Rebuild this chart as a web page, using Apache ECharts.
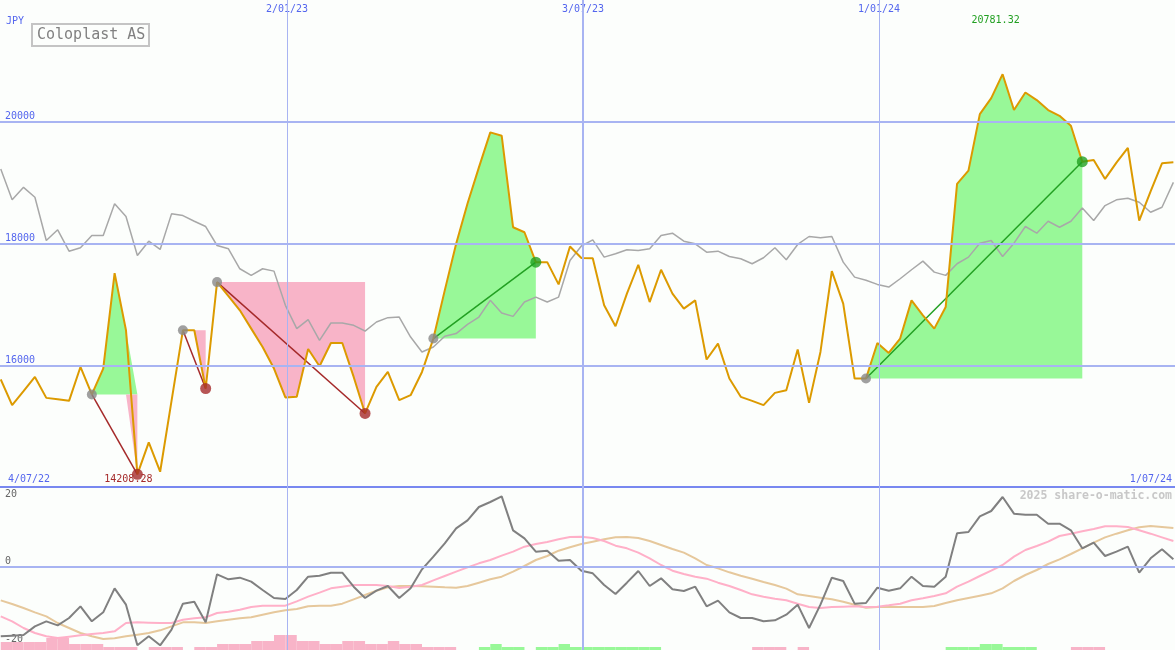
<!DOCTYPE html>
<html><head><meta charset="utf-8">
<script src="https://cdn.jsdelivr.net/npm/echarts@6/dist/echarts.min.js"></script>
<style>html,body{margin:0;padding:0;background:#fcfefc}#c{width:1175px;height:650px}</style>
</head><body><div id="c"></div>
<script>
const stockName = 'Coloplast AS';
const currency = 'JPY';
const watermark = '2025 share-o-matic.com';
const startDate = '2022-07-10';
const tickLabels = ['4/07/22', '2/01/23', '3/07/23', '1/01/24', '1/07/24'];
const priceTicks = [16000, 18000, 20000];
const momentumTicks = [-20, 0, 20];

const price = [15766, 15344, 15574, 15808, 15464, 15443, 15415, 15972, 15520, 15946,
  17513, 16574, 14208.28, 14733, 14251, 15415, 16574, 16574, 15618, 17366,
  17136, 16902, 16602, 16300, 15946, 15471, 15484, 16267, 15984, 16366,
  16366, 15808, 15208, 15644, 15890, 15426, 15508, 15890, 16438, 17230,
  17995, 18656, 19251, 19825, 19771, 18267, 18185, 17694, 17694, 17328,
  17951, 17762, 17759, 16984, 16640, 17176, 17651, 17038, 17569, 17176,
  16930, 17066, 16094, 16356, 15782, 15481, 15415, 15344, 15546, 15590,
  16258, 15382, 16218, 17546, 17012, 15782, 15782, 16366, 16202, 16438,
  17066, 16820, 16602, 16956, 18979, 19197, 20126, 20389, 20781.32, 20192,
  20480, 20356, 20192, 20098, 19934, 19344, 19372, 19061, 19328, 19569,
  18377, 18858, 19317, 19333];

const benchmark = [19225, 18717, 18923, 18759, 18049, 18225, 17874, 17930, 18131, 18131,
  18651, 18443, 17803, 18038, 17902, 18487, 18459, 18366, 18279, 17967,
  17913, 17585, 17476, 17585, 17546, 16984, 16602, 16749, 16410, 16694,
  16694, 16656, 16562, 16710, 16782, 16792, 16464, 16218, 16300, 16476,
  16520, 16672, 16792, 17066, 16858, 16803, 17038, 17120, 17038, 17120,
  17721, 17959, 18061, 17776, 17831, 17897, 17885, 17913, 18131, 18169,
  18038, 17995, 17857, 17874, 17787, 17749, 17667, 17766, 17930, 17733,
  17984, 18115, 18094, 18115, 17694, 17448, 17397, 17328, 17284, 17421,
  17569, 17710, 17530, 17476, 17667, 17776, 18005, 18049, 17787, 18005,
  18279, 18169, 18366, 18267, 18366, 18585, 18377, 18623, 18717, 18743,
  18677, 18513, 18595, 19005];

const momentum = [-20.8, -20.6, -20.4, -17.8, -16.3, -17.5, -15.3, -11.8, -16.3, -13.6,
  -6.4, -11.3, -23.5, -20.8, -23.5, -18.8, -11.0, -10.4, -16.6, -2.2,
  -3.7, -3.2, -4.4, -6.9, -9.3, -9.6, -6.9, -2.9, -2.6, -1.7,
  -1.7, -5.9, -9.3, -7.1, -5.7, -9.3, -6.4, -0.7, 3.1, 7.1,
  11.6, 14.0, 18.0, 19.5, 21.2, 11.0, 8.6, 4.6, 4.9, 1.9,
  2.1, -1.1, -1.9, -5.4, -8.1, -4.7, -1.2, -5.7, -3.4, -6.7,
  -7.2, -5.9, -11.8, -10.1, -13.6, -15.3, -15.3, -16.3, -16.0, -14.3,
  -11.3, -18.3, -11.3, -3.2, -4.2, -11.0, -10.8, -6.2, -7.1, -6.4,
  -2.9, -5.7, -5.9, -2.9, 10.1, 10.5, 15.2, 16.8, 21.0, 16.0,
  15.7, 15.7, 13.0, 13.0, 11.0, 5.6, 7.3, 3.3, 4.6, 6.1,
  -1.7, 2.6, 5.3, 2.3];

const maFast = [-14.8, -16.3, -18.3, -19.8, -20.8, -21.3, -20.9, -20.5, -20.1, -19.8,
  -19.3, -16.8, -16.6, -16.7, -16.8, -16.8, -15.8, -15.4, -15.1, -13.8,
  -13.4, -12.8, -12.0, -11.6, -11.6, -11.6, -10.3, -8.9, -7.7, -6.4,
  -5.9, -5.4, -5.4, -5.4, -5.7, -6.3, -5.9, -5.4, -4.0, -2.7,
  -1.4, -0.1, 1.1, 2.1, 3.4, 4.6, 6.1, 6.9, 7.5, 8.3,
  9.0, 9.1, 8.7, 7.8, 6.4, 5.6, 4.3, 2.6, 0.6, -1.1,
  -2.1, -2.9, -3.5, -4.7, -5.7, -6.9, -8.2, -8.9, -9.5, -10.0,
  -11.0, -12.0, -12.3, -12.0, -11.9, -11.8, -12.0, -11.9, -11.5, -11.0,
  -10.0, -9.4, -8.7, -7.9, -5.9, -4.4, -2.7, -1.1, 0.6, 3.1,
  5.1, 6.3, 7.6, 9.3, 10.0, 10.7, 11.4, 12.2, 12.2, 12.0,
  11.0, 10.0, 8.9, 7.8];

const maSlow = [-10.0, -11.1, -12.3, -13.6, -14.8, -16.8, -18.3, -19.8, -20.8, -21.6,
  -21.4, -20.8, -20.3, -19.8, -19.0, -17.8, -16.6, -16.6, -16.8, -16.3,
  -15.8, -15.4, -15.1, -14.3, -13.6, -13.0, -12.6, -11.8, -11.6, -11.6,
  -11.0, -9.7, -8.4, -7.1, -6.1, -5.7, -5.7, -5.8, -5.9, -6.1,
  -6.2, -5.7, -4.7, -3.7, -2.9, -1.4, 0.3, 2.1, 3.3, 4.9,
  5.9, 6.9, 7.6, 8.3, 8.9, 9.0, 8.7, 7.8, 6.6, 5.4,
  4.3, 2.6, 0.6, -0.4, -1.6, -2.6, -3.5, -4.5, -5.4, -6.5,
  -8.2, -8.7, -9.2, -9.7, -10.4, -11.3, -12.2, -12.0, -12.0, -12.0,
  -12.0, -12.0, -11.7, -10.8, -10.0, -9.3, -8.6, -7.9, -6.4, -4.2,
  -2.4, -0.9, 0.9, 2.3, 3.9, 5.6, 7.3, 8.9, 10.0, 11.0,
  11.9, 12.3, 12.0, 11.7];

const signalBars = [-8, -8, -8, -8, -12, -12, -6, -6, -6, -3,
  -3, -3, 0, -3, -3, -3, 0, -3, -3, -6,
  -6, -6, -9, -9, -15, -15, -9, -9, -6, -6,
  -9, -9, -6, -6, -9, -6, -6, -3, -3, -3,
  0, 0, 3, 6, 3, 3, 0, 3, 3, 6,
  3, 3, 3, 3, 3, 3, 3, 3, 0, 0,
  0, 0, 0, 0, 0, 0, -3, -3, -3, 0,
  -3, 0, 0, 0, 0, 0, 0, 0, 0, 0,
  0, 0, 0, 3, 3, 3, 6, 6, 3, 3,
  3, 0, 0, 0, -3, -3, -3, 0, 0, 0,
  0, 0, 0, 0];

const tradeEntries = [8, 16, 19, 38, 76];
const tradeExits = [12, 18, 32, 47, 95];

// ---------- derived ----------
const DAY = 86400000;
const MONO = '"DejaVu Sans Mono", "Liberation Mono", monospace';
const BLUE = '#5466ee';
const GRIDC = '#a8b4f2';
const GREEN_FILL = '#98f898';
const PINK_FILL = '#f8b4c8';
const WIN = '#22a022';
const LOSS = '#a52a2a';

function parseTick(s) { const p = s.split('/').map(Number); return Date.UTC(2000 + p[2], p[1] - 1, p[0]); }
const tickTimes = tickLabels.map(parseTick);
const t0 = Date.parse(startDate + 'T00:00:00Z');
const dates = price.map((_, i) => t0 + 7 * i * DAY);
const xMax = tickTimes[tickTimes.length - 1];
// the first labelled date sits just off the left edge of the picture (9 of 1184 px)
const xMin = tickTimes[0] + (xMax - tickTimes[0]) * 9 / 1184;
const pair = (arr) => arr.map((v, i) => [dates[i], v]);
const edgeValues = [xMin, xMax];
const edgeLabel = (v) => Math.abs(v - xMin) < DAY ? tickLabels[0] : (Math.abs(v - xMax) < DAY ? tickLabels[tickLabels.length - 1] : '');
const midLabel = (v) => { let best = '', bd = Infinity; tickTimes.forEach((t, k) => { const d = Math.abs(t - v); if (d < bd) { bd = d; best = tickLabels[k]; } }); return bd < DAY ? best : ''; };
const vLine = (t, k) => ({ xAxis: t, lineStyle: { color: GRIDC, width: k === 1 ? 2 : 1, type: 'solid' } });

const series = [];
series.push({
  type: 'line', xAxisIndex: 0, yAxisIndex: 0, data: pair(benchmark), symbol: 'none', silent: true,
  lineStyle: { opacity: 0 }, z: 0,
  markLine: { symbol: 'none', silent: true, label: { show: false }, animation: false,
    data: priceTicks.map(v => ({ yAxis: v, lineStyle: { color: GRIDC, width: 2, type: 'solid' } }))
      .concat(tickTimes.slice(1, -1).map(vLine)) }
});
tradeEntries.forEach((e, k) => {
  const x = tradeExits[k], level = price[e];
  const up = [], dn = [];
  for (let i = e; i <= x; i++) { up.push([dates[i], Math.max(price[i], level)]); dn.push([dates[i], Math.min(price[i], level)]); }
  series.push({ type: 'line', xAxisIndex: 0, yAxisIndex: 0, data: up, symbol: 'none', silent: true, z: 1,
    lineStyle: { width: 0 }, areaStyle: { color: GREEN_FILL, opacity: 1, origin: level } });
  series.push({ type: 'line', xAxisIndex: 0, yAxisIndex: 0, data: dn, symbol: 'none', silent: true, z: 1,
    lineStyle: { width: 0 }, areaStyle: { color: PINK_FILL, opacity: 1, origin: level } });
});
series.push({ type: 'line', xAxisIndex: 0, yAxisIndex: 0, data: pair(benchmark), symbol: 'none', z: 2,
  lineStyle: { color: '#a8a8a8', width: 1.5 } });
tradeEntries.forEach((e, k) => {
  const x = tradeExits[k];
  series.push({ type: 'line', xAxisIndex: 0, yAxisIndex: 0, symbol: 'none', z: 3,
    data: [[dates[e], price[e]], [dates[x], price[x]]],
    lineStyle: { color: price[x] > price[e] ? WIN : LOSS, width: 1.5 } });
});
series.push({ type: 'line', xAxisIndex: 0, yAxisIndex: 0, data: pair(price), symbol: 'none', z: 4,
  lineStyle: { color: '#dc9a00', width: 2 },
  markPoint: { symbol: 'circle', symbolSize: 1, itemStyle: { color: 'rgba(0,0,0,0)' }, animation: false,
    label: { show: true, position: 'inside', fontFamily: MONO, fontSize: 10, formatter: (p) => Number(p.value).toFixed(2) },
    data: [
      { type: 'max', label: { color: WIN, offset: [-7, -54] } },
      { type: 'min', label: { color: LOSS, offset: [-9, 5] } }
    ] }
});
series.push({ type: 'scatter', xAxisIndex: 0, yAxisIndex: 0, z: 5, symbolSize: 10,
  itemStyle: { color: '#888888' }, data: tradeEntries.map(e => [dates[e], price[e]]) });
series.push({ type: 'scatter', xAxisIndex: 0, yAxisIndex: 0, z: 5, symbolSize: 11,
  data: tradeExits.map((x, k) => ({ value: [dates[x], price[x]], itemStyle: { color: price[x] > price[tradeEntries[k]] ? WIN : LOSS } })) });

series.push({
  type: 'line', xAxisIndex: 2, yAxisIndex: 1, data: pair(momentum), symbol: 'none', silent: true,
  lineStyle: { opacity: 0 }, z: 0,
  markLine: { symbol: 'none', silent: true, label: { show: false }, animation: false,
    data: [{ yAxis: 0, lineStyle: { color: GRIDC, width: 2, type: 'solid' } }].concat(tickTimes.slice(1, -1).map(vLine)) }
});
series.push({ type: 'bar', xAxisIndex: 2, yAxisIndex: 2, barWidth: 11.4, z: 1, silent: true,
  data: signalBars.map((v, i) => ({ value: [dates[i] + 3.5 * DAY, Math.abs(v)], itemStyle: { color: v >= 0 ? GREEN_FILL : PINK_FILL } })) });
series.push({ type: 'line', xAxisIndex: 2, yAxisIndex: 1, data: pair(maSlow), symbol: 'none', z: 2,
  lineStyle: { color: '#e6c89c', width: 2 } });
series.push({ type: 'line', xAxisIndex: 2, yAxisIndex: 1, data: pair(maFast), symbol: 'none', z: 3,
  lineStyle: { color: '#ffb0c8', width: 2 } });
series.push({ type: 'line', xAxisIndex: 2, yAxisIndex: 1, data: pair(momentum), symbol: 'none', z: 4,
  lineStyle: { color: '#808080', width: 2 } });

const option = {
  animation: false,
  backgroundColor: '#fcfefc',
  title: [
    { text: currency, left: 6, top: 16, padding: 0, textStyle: { fontFamily: MONO, fontSize: 10, fontWeight: 'normal', color: BLUE } },
    { text: stockName, left: 32, top: 24, padding: [4, 4, 3, 5], borderColor: '#c4c4c4', borderWidth: 2,
      textStyle: { fontFamily: MONO, fontSize: 15, fontWeight: 'normal', color: '#808080' } },
    { text: watermark, right: 3, top: 490, padding: 0, textStyle: { fontFamily: MONO, fontSize: 11.5, fontWeight: 'bold', color: '#c8c8c8' } }
  ],
  grid: [
    { left: 0, right: 0, top: -1, height: 488 },
    { left: 0, right: 0, top: 487, height: 163 }
  ],
  xAxis: [
    { type: 'value', gridIndex: 0, position: 'bottom', min: xMin, max: xMax,
      axisLine: { show: true, onZero: false, lineStyle: { color: '#7888f0', width: 2 } }, axisTick: { show: false }, splitLine: { show: false },
      axisLabel: { inside: true, margin: 3, customValues: edgeValues, alignMinLabel: 'left', alignMaxLabel: 'right',
        padding: [0, 3, 0, 8], formatter: edgeLabel, color: BLUE, fontFamily: MONO, fontSize: 10 } },
    { type: 'value', gridIndex: 0, position: 'top', min: xMin, max: xMax,
      axisLine: { show: false }, axisTick: { show: false }, splitLine: { show: false },
      axisLabel: { inside: true, margin: 4, customValues: tickTimes.slice(1, -1),
        formatter: midLabel, color: BLUE, fontFamily: MONO, fontSize: 10 } },
    { type: 'value', gridIndex: 1, min: xMin, max: xMax, show: false }
  ],
  yAxis: [
    { type: 'value', gridIndex: 0, min: 14000, max: 22000, interval: 2000,
      axisLine: { show: false }, axisTick: { show: false }, splitLine: { show: false },
      axisLabel: { inside: true, margin: 5, verticalAlign: 'bottom', customValues: priceTicks,
        formatter: (v) => String(v), color: BLUE, fontFamily: MONO, fontSize: 10 } },
    { type: 'value', gridIndex: 1, min: -24.9, max: 24,
      axisLine: { show: false }, axisTick: { show: false }, splitLine: { show: false },
      axisLabel: { inside: true, margin: 5, verticalAlign: 'middle', customValues: momentumTicks,
        formatter: (v) => v < 0 ? '{n|' + v + '}' : '{p|' + v + '}',
        rich: { p: { padding: [0, 0, 12, 0], color: '#666666', fontFamily: MONO, fontSize: 10 },
                n: { padding: [12, 0, 0, 0], color: '#666666', fontFamily: MONO, fontSize: 10 } } } },
    { type: 'value', gridIndex: 1, min: 0, max: 163, show: false }
  ],
  series: series
};

const chart = echarts.init(document.getElementById('c'), null, { renderer: 'canvas' });
chart.setOption(option);
</script></body></html>
